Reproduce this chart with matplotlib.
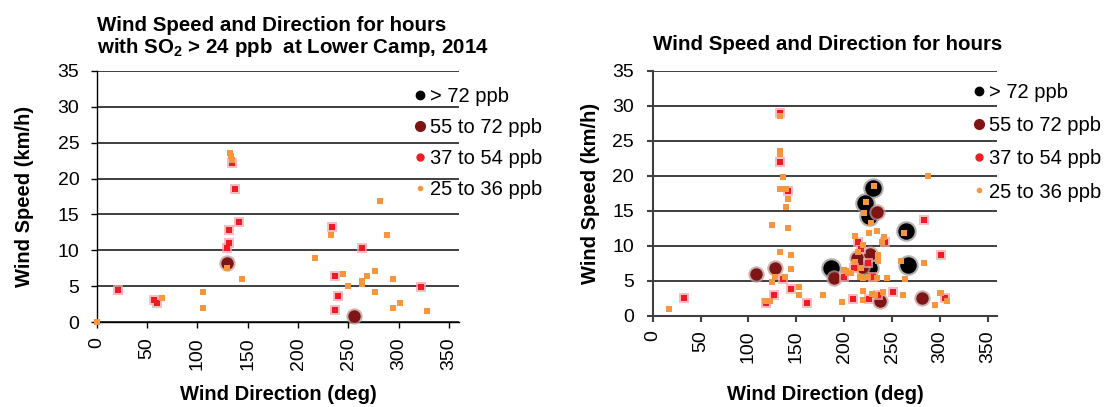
import matplotlib
matplotlib.use("Agg")
import matplotlib.pyplot as plt
from matplotlib.lines import Line2D

plt.rcParams['font.family'] = ['Liberation Sans', 'DejaVu Sans']
plt.rcParams['mathtext.fontset'] = 'custom'
plt.rcParams['mathtext.rm'] = 'Liberation Sans'
plt.rcParams['mathtext.bf'] = 'Liberation Sans:bold'

# ---- Lower Camp, SO2 > 24 ppb (left) ----
lc_dir_55_72 = [129, 255.5]
lc_spd_55_72 = [8.2, 0.9]

lc_dir_37_54 = [20.7, 57, 59.5, 129, 131, 131, 134.4, 136.9, 141.5, 234, 237, 239.5, 237, 263, 322.5]
lc_spd_37_54 = [4.5, 3.1, 2.7, 10.3, 11.0, 12.8, 22.1, 18.6, 14.0, 13.2, 6.4, 3.6, 1.7, 10.3, 4.9]

lc_dir_25_36 = [0, 65, 106, 106, 129, 132, 133.5, 134, 144.7, 216.7, 232.4, 244.5, 249.5, 263, 263,
                268.4, 276, 276, 281.5, 288.3, 294, 294, 301.5, 327.5]
lc_spd_25_36 = [0, 3.4, 4.2, 2.05, 7.5, 23.6, 23.1, 22.6, 6.0, 8.9, 12.1, 6.7, 5.0, 5.7, 5.3,
                6.4, 7.1, 4.2, 16.9, 12.1, 6.0, 2.05, 2.75, 1.6]

# ---- second site (right) ----
r_dir_72 = [230.5, 221.7, 226, 264.5, 186.3, 267, 226]
r_spd_72 = [18.3, 16.1, 14.3, 12.2, 6.9, 7.3, 6.9]

r_dir_55_72 = [108, 127.7, 189, 234, 227, 213.5, 218.3, 281.5, 237]
r_spd_55_72 = [6.0, 6.8, 5.4, 14.9, 8.8, 8.3, 7.0, 2.6, 2.1]

r_dir_37_54 = [33, 118.3, 126.5, 135.9, 144.5, 161, 133, 133, 141.6, 200.3, 208.9, 210.5, 214,
               217.6, 225.2, 225.5, 230.3, 235.6, 242.3, 250.5, 283.8, 301, 305.5]
r_spd_37_54 = [2.6, 1.8, 3.0, 5.3, 3.8, 1.8, 29.0, 22.0, 17.8, 5.6, 2.4, 6.8, 10.6,
               9.5, 7.6, 2.4, 5.6, 3.0, 10.6, 3.4, 13.7, 8.7, 2.6]

r_dir_25_36 = [17, 117, 122, 125, 125, 127.7, 133, 133, 133, 135.8, 133, 138.9, 141.6, 138.9,
               141.5, 133.3, 144.5, 144.5, 138.5, 152.8, 152.8, 177.8, 197.5, 199.6, 201.5,
               204, 207, 211.5, 211.5, 214.8, 219.5, 217.9, 216.5, 220, 220, 220, 220.5,
               222.5, 225.5, 225, 228, 229.5, 231.5, 234, 234, 235.6, 235.6, 239.5, 241.9,
               241, 244.4, 259.4, 262, 261.8, 264, 283.8, 287.5, 300, 301, 307, 232, 294.8]
r_spd_25_36 = [1.0, 2.2, 2.2, 4.9, 13.0, 5.6, 28.5, 23.5, 23.1, 19.8, 18.1, 18.1, 16.7, 15.5,
               12.5, 9.1, 8.7, 6.7, 5.6, 4.1, 3.0, 3.0, 2.0, 6.5, 6.4,
               6.1, 6.1, 11.4, 7.7, 9.2, 10.2, 6.8, 5.6, 5.4, 3.5, 2.3, 14.7,
               16.3, 11.8, 5.6, 13.3, 3.1, 18.6, 12.1, 5.4, 8.7, 7.9, 10.6, 11.3,
               3.4, 5.4, 7.9, 11.8, 3.0, 5.3, 7.6, 20.0, 3.3, 3.3, 2.2, 3.0, 1.5]

x_ticks = [0, 50, 100, 150, 200, 250, 300, 350]
y_ticks = [0, 5, 10, 15, 20, 25, 30, 35]
labels = ['> 72 ppb', '55 to 72 ppb', '37 to 54 ppb', '25 to 36 ppb']

# core colour, halo colour, marker, core size, halo size
styles = {
    '72': ('#000000', '#9a9a9a', 'o', 140, 220),
    '55': ('#7d1515', '#c29a9a', 'o', 80, 140),
    '37': ('#ec1c24', '#f6a6ac', 's', 20, 55),
    '25': ('#f7963c', '#f9c08a', 's', 18, 0),
}


def draw_series(ax, x, y, key):
    core, halo, mk, s_core, s_halo = styles[key]
    if s_halo:
        ax.scatter(x, y, s=s_halo, c=halo, marker=mk, linewidths=0, alpha=0.75, clip_on=False, zorder=3)
    ax.scatter(x, y, s=s_core, c=core, marker=mk, linewidths=0, clip_on=False, zorder=3)


def style_axes(ax, spine_color, spine_lw, ypad, ylabelpad, xlabelpad):
    ax.set_xlim(0, 360)
    ax.set_ylim(0, 35)
    ax.set_xticks(x_ticks)
    ax.set_yticks(y_ticks)
    ax.set_xticklabels([str(t) for t in x_ticks], rotation=90)
    ax.tick_params(axis='both', labelsize=14, direction='out', length=4.5,
                   width=spine_lw, color=spine_color)
    ax.tick_params(axis='x', pad=6)
    ax.tick_params(axis='y', pad=ypad)
    for side in ('top', 'right'):
        ax.spines[side].set_visible(False)
    for side in ('left', 'bottom'):
        ax.spines[side].set_color(spine_color)
        ax.spines[side].set_linewidth(spine_lw)
    ax.yaxis.grid(True, color='#303030', linewidth=1.3)
    ax.set_axisbelow(True)
    ax.set_xlabel('Wind Direction (deg)', fontsize=14.5, fontweight='bold', labelpad=xlabelpad)
    ax.set_ylabel('Wind Speed (km/h)', fontsize=14.5, fontweight='bold', labelpad=ylabelpad)


def add_legend(ax, anchor, spacing):
    handles = [
        Line2D([], [], ls='none', marker='o', color='#000000', markersize=6),
        Line2D([], [], ls='none', marker='o', color='#7d1515', markersize=7),
        Line2D([], [], ls='none', marker='o', color='#ec1c24', markersize=5),
        Line2D([], [], ls='none', marker='o', color='#f7963c', markersize=3),
    ]
    ax.legend(handles, labels, loc='upper left', bbox_to_anchor=anchor, frameon=False,
              fontsize=14.5, handlelength=0.6, handletextpad=0.2, labelspacing=spacing,
              borderaxespad=0, borderpad=0)


fig = plt.figure(figsize=(11.19, 4.07), dpi=100)

ax1 = fig.add_axes([0.0864, 0.2081, 0.324, 0.6182])
draw_series(ax1, lc_dir_55_72, lc_spd_55_72, '55')
draw_series(ax1, lc_dir_37_54, lc_spd_37_54, '37')
draw_series(ax1, lc_dir_25_36, lc_spd_25_36, '25')
style_axes(ax1, '#000000', 1.0, ypad=8, ylabelpad=17, xlabelpad=11.5)
ax1.set_title('Wind Speed and Direction for hours\nwith SO$_\\mathbf{2}$ > 24 ppb  at Lower Camp, 2014',
              loc='left', fontsize=14.8, fontweight='bold', pad=13, linespacing=1.05)
add_legend(ax1, (0.875, 0.935), 0.6)

ax2 = fig.add_axes([0.5833, 0.2236, 0.308, 0.602])
draw_series(ax2, r_dir_72, r_spd_72, '72')
draw_series(ax2, r_dir_55_72, r_spd_55_72, '55')
draw_series(ax2, r_dir_37_54, r_spd_37_54, '37')
draw_series(ax2, r_dir_25_36, r_spd_25_36, '25')
style_axes(ax2, '#404040', 1.5, ypad=9, ylabelpad=8.5, xlabelpad=16)
ax2.set_title('Wind Speed and Direction for hours', loc='left', fontsize=14.8,
              fontweight='bold', pad=15)
add_legend(ax2, (0.93, 0.95), 0.7)

fig.savefig('out.png', dpi=100)
